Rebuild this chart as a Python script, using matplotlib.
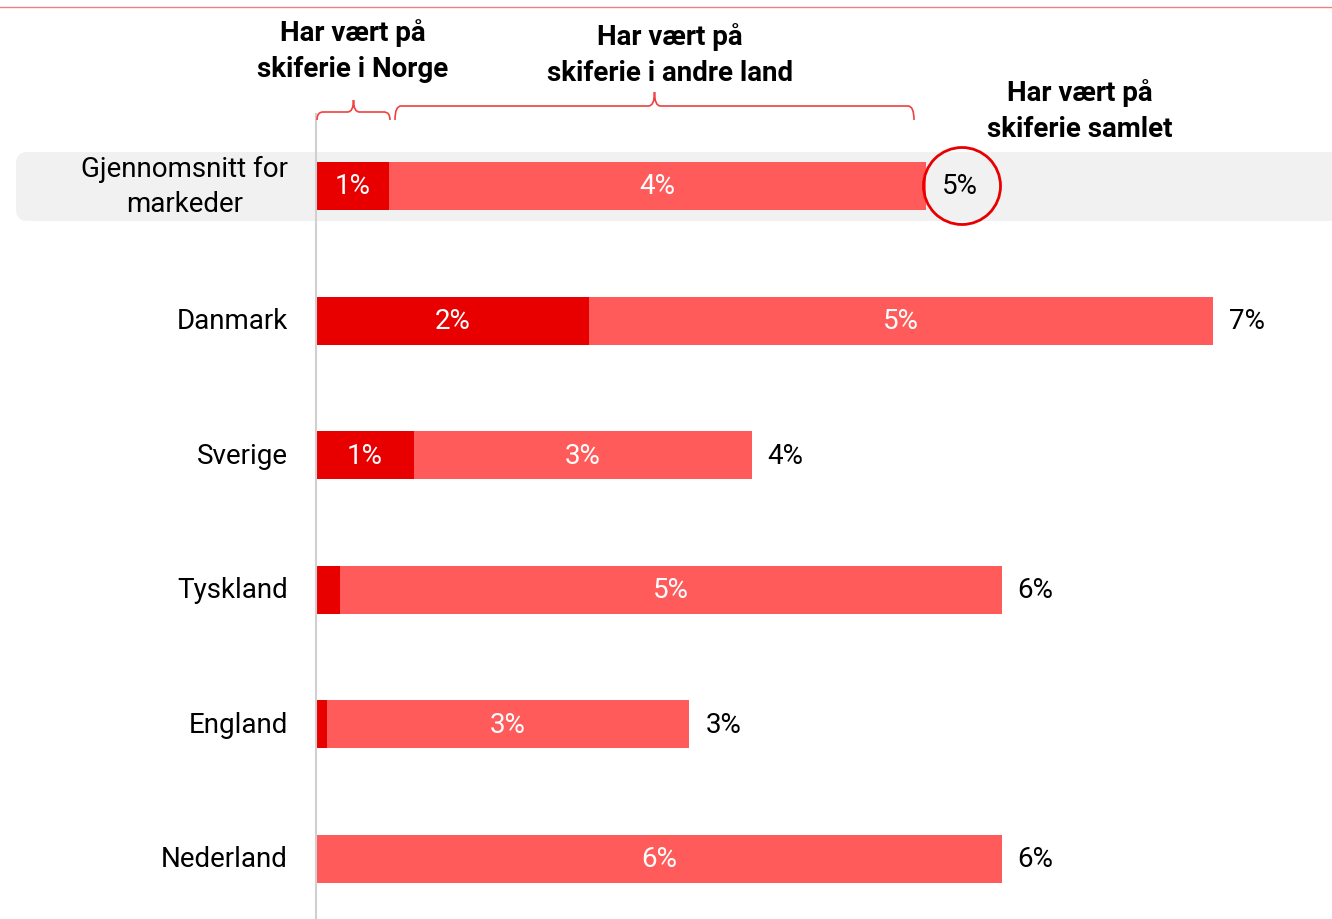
import numpy as np
import matplotlib
matplotlib.use('Agg')
import matplotlib.pyplot as plt
import matplotlib.transforms as mtransforms
from matplotlib.patches import FancyBboxPatch
from matplotlib.path import Path
from matplotlib.patches import PathPatch

plt.rcParams['font.family'] = ['Roboto', 'DejaVu Sans']

# data (andel i %)
markeder = ['Gjennomsnitt for\nmarkeder', 'Danmark', 'Sverige', 'Tyskland', 'England', 'Nederland']
norge = [0.60, 2.24, 0.80, 0.20, 0.09, 0.00]
andre_land = [4.40, 5.11, 2.77, 5.42, 2.97, 5.62]

headers = ['Har vært på\nskiferie i Norge', 'Har vært på\nskiferie i andre land', 'Har vært på\nskiferie samlet']

mork = '#E80000'
lys = '#FF5B5B'

W, H = 1332, 920
fig = plt.figure(figsize=(W / 100, H / 100), dpi=100)
ax = fig.add_axes([0, 0, 1, 1])
ax.axis('off')

# skala: ca 122 px per prosentpoeng, radavstand 134.6 px
ax.set_xlim(-316 / 122, (W - 316) / 122)
ax.set_ylim((H - 187) / 134.6, -187 / 134.6)

# piksel-transform (0,0 oppe til venstre)
px = mtransforms.Affine2D().scale(1 / W, -1 / H).translate(0, 1) + fig.transFigure

y = np.arange(len(markeder))
norge = np.array(norge)
andre_land = np.array(andre_land)
total = norge + andre_land

# grå bakgrunn for gjennomsnitt
band = FancyBboxPatch((16, 153), W, 69, boxstyle='round,pad=0,rounding_size=12',
                      transform=px, facecolor='#F1F1F1', edgecolor='none', zorder=0)
ax.add_patch(band)

# linje øverst og akse
ax.plot([0, W], [8, 8], color='#F08080', lw=1, transform=px, zorder=1)
ax.plot([316, 316], [115, H], color='#D0D0D0', lw=1.5, transform=px, zorder=3)

h = 48 / 134.6
ax.barh(y, norge, height=h, color=mork, zorder=2)
ax.barh(y, andre_land, left=norge, height=h, color=lys, zorder=2)

fs = 20
for i in range(len(markeder)):
    if norge[i] >= 0.5:
        ax.text(norge[i] / 2, y[i], '%d%%' % round(norge[i]), color='white',
                ha='center', va='center', fontsize=fs, zorder=4)
    ax.text(norge[i] + andre_land[i] / 2, y[i], '%d%%' % round(andre_land[i]),
            color='white', ha='center', va='center', fontsize=fs, zorder=4)
    off = mtransforms.offset_copy(ax.transData, fig=fig, x=16, y=0, units='dots')
    ax.text(total[i], y[i], '%d%%' % round(total[i]), color='black',
            ha='left', va='center', fontsize=fs, transform=off, zorder=4)
    ax.text(-28 / 122, y[i], markeder[i], ha='right', va='center', fontsize=fs,
            multialignment='center', linespacing=1.4, zorder=4)

# sirkel rundt totalen for gjennomsnitt
offc = mtransforms.offset_copy(ax.transData, fig=fig, x=36, y=0, units='dots')
ax.scatter([total[0]], [y[0]], s=(2 * 38.5 * 0.72) ** 2, facecolor='none',
           edgecolor=mork, linewidth=2, transform=offc, zorder=5)

# overskrifter
ax.text(353, 51, headers[0], ha='center', va='center', fontsize=fs, fontweight='bold',
        transform=px, linespacing=1.45)
ax.text(670, 55, headers[1], ha='center', va='center', fontsize=fs, fontweight='bold',
        transform=px, linespacing=1.45)
ax.text(1080, 111, headers[2], ha='center', va='center', fontsize=fs, fontweight='bold',
        transform=px, linespacing=1.45)


def klamme(x0, x1, ybot, yflat, ytop):
    xm = (x0 + x1) / 2
    r = 6
    verts = [(x0, ybot), (x0, yflat), (x0 + r, yflat),
             (xm - r, yflat), (xm, yflat), (xm, ytop),
             (xm, yflat), (xm + r, yflat),
             (x1 - r, yflat), (x1, yflat), (x1, ybot)]
    codes = [Path.MOVETO, Path.CURVE3, Path.CURVE3,
             Path.LINETO, Path.CURVE3, Path.CURVE3,
             Path.CURVE3, Path.CURVE3,
             Path.LINETO, Path.CURVE3, Path.CURVE3]
    ax.add_patch(PathPatch(Path(verts, codes), transform=px, facecolor='none',
                           edgecolor='#F04040', lw=1.2, zorder=3))


klamme(317, 390, 121, 113, 101)
klamme(395, 914, 121, 107, 93)

fig.savefig('out.png', dpi=100)
